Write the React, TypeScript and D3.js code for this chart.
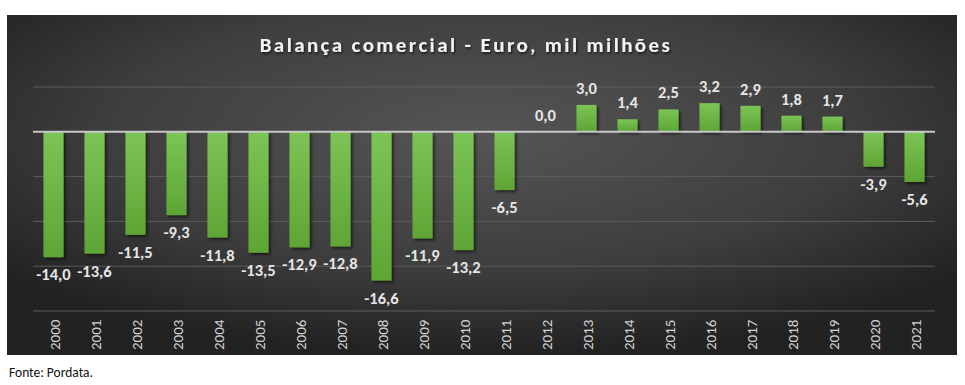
import * as d3 from "d3";

const years = [
  "2000", "2001", "2002", "2003", "2004", "2005", "2006", "2007", "2008", "2009", "2010",
  "2011", "2012", "2013", "2014", "2015", "2016", "2017", "2018", "2019", "2020", "2021",
];
const balance = [
  -14.0, -13.6, -11.5, -9.3, -11.8, -13.5, -12.9, -12.8, -16.6, -11.9, -13.2,
  -6.5, 0.0, 3.0, 1.4, 2.5, 3.2, 2.9, 1.8, 1.7, -3.9, -5.6,
];
const gridValues = [5, 0, -5, -10, -15, -20];

const W = 965;
const H = 385;
const font = "Calibri, Carlito, 'Open Sans', 'Liberation Sans', sans-serif";

export default function App() {
  const x = d3.scaleBand<string>().domain(years).range([33, 935]).paddingInner(0.51).paddingOuter(0.255);
  const y = d3.scaleLinear().domain([-20, 5]).range([311, 87]);
  const fmt = (v: number) => v.toFixed(1).replace(".", ",");

  return (
    <svg width={W} height={H} style={{ position: "absolute", left: 0, top: 0, background: "#fff" }}>
      <defs>
        <radialGradient id="bg" cx="50%" cy="35%" r="65%" fx="50%" fy="35%">
          <stop offset="0%" stopColor="#555555" />
          <stop offset="60%" stopColor="#3e3e3e" />
          <stop offset="100%" stopColor="#222222" />
        </radialGradient>
        <linearGradient id="bar" x1="0" y1="0" x2="0" y2="1">
          <stop offset="0%" stopColor="#7cc456" />
          <stop offset="100%" stopColor="#5ea535" />
        </linearGradient>
        <filter id="shadow" x="-20%" y="-20%" width="150%" height="150%">
          <feDropShadow dx="2" dy="2" stdDeviation="1.5" floodColor="#000" floodOpacity="0.55" />
        </filter>
        <filter id="tshadow" x="-5%" y="-30%" width="110%" height="160%">
          <feDropShadow dx="1" dy="1.5" stdDeviation="1.2" floodColor="#000" floodOpacity="0.7" />
        </filter>
      </defs>
      <rect x={7} y={15} width={950} height={340} fill="url(#bg)" />
      <text
        x={466}
        y={52}
        textAnchor="middle"
        fill="#f2f2f2"
        fontFamily={font}
        fontWeight="bold"
        fontSize={21}
        letterSpacing={2.4}
        filter="url(#tshadow)"
      >
        Balança comercial - Euro, mil milhões
      </text>
      {gridValues.filter((g) => g !== 0).map((g) => (
        <line key={g} x1={33} x2={935} y1={y(g)} y2={y(g)} stroke="#5c5c5c" strokeWidth={1} />
      ))}
      {years.map((yr, i) => {
        const v = balance[i];
        const y0 = y(0);
        const yv = y(v);
        const cx = (x(yr) ?? 0) + x.bandwidth() / 2;
        return (
          <g key={yr}>
            <rect
              x={x(yr)}
              y={Math.min(y0, yv)}
              width={x.bandwidth()}
              height={Math.abs(yv - y0)}
              fill="url(#bar)"
              filter="url(#shadow)"
            />
            <text
              x={cx}
              y={v < 0 ? yv + 23 : yv - 11}
              textAnchor="middle"
              fill="#e6e6e6"
              fontFamily={font}
              fontWeight="bold"
              fontSize={16.5}
            >
              {fmt(v)}
            </text>
            <text
              transform={`translate(${cx + 6.5},350) rotate(-90)`}
              fill="#d4d4d4"
              fontFamily={font}
              fontSize={15}
            >
              {yr}
            </text>
          </g>
        );
      })}
      <line x1={33} x2={935} y1={y(0)} y2={y(0)} stroke="#c8c8c8" strokeWidth={2} />
      <text x={9} y={377} fill="#111" fontFamily={font} fontSize={13.5}>
        Fonte: Pordata.
      </text>
    </svg>
  );
}
